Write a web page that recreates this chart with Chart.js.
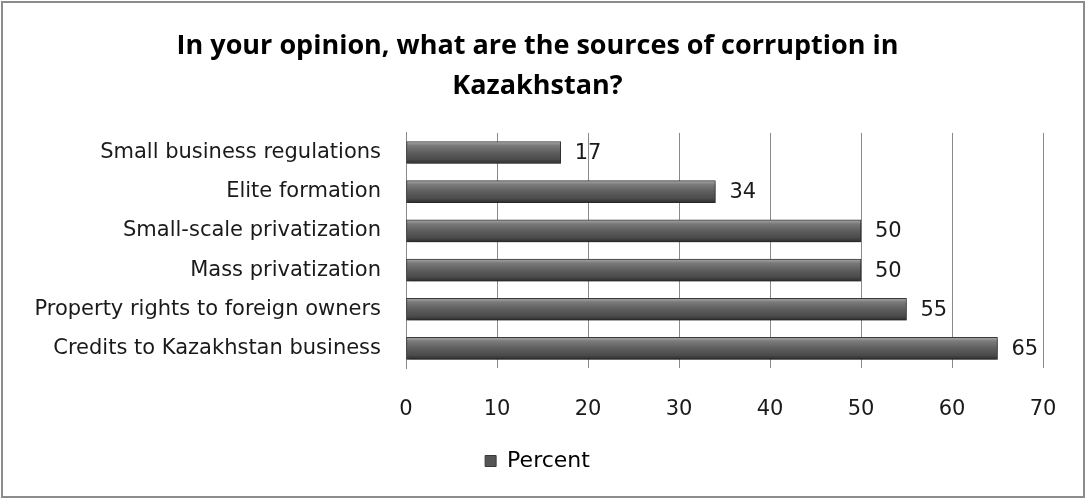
<!DOCTYPE html>
<html>
<head>
<meta charset="utf-8">
<script src="https://cdn.jsdelivr.net/npm/chart.js@4/dist/chart.umd.min.js"></script>
<style>
  html, body { margin: 0; padding: 0; background: #fff; }
  #wrap { position: relative; width: 1086px; height: 499px; }
  #chart { position: absolute; left: 0; top: 0; }
  #frame {
    position: absolute; left: 1px; top: 1px; width: 1084px; height: 497px;
    box-sizing: border-box; border: 2px solid #8c8c8c; pointer-events: none;
  }
</style>
</head>
<body>
<div id="wrap">
  <canvas id="chart" width="1086" height="499"></canvas>
  <div id="frame"></div>
</div>
<script>
const categories = [
  'Small business regulations',
  'Elite formation',
  'Small-scale privatization',
  'Mass privatization',
  'Property rights to foreign owners',
  'Credits to Kazakhstan business'
];
const percentValues = [17, 34, 50, 50, 55, 65];
const xTicks = [0, 10, 20, 30, 40, 50, 60, 70];

const FONT = "'DejaVu Sans', sans-serif";
const TITLE_FONT = "'Open Sans', 'DejaVu Sans', sans-serif";
const BAR_H = 22;

// vertical bevel-like gradient for each bar, centred on its category row
function barFill(context) {
  const chart = context.chart;
  const yScale = chart.scales.y;
  if (!yScale || context.dataIndex == null) return '#555';
  const cy = yScale.getPixelForValue(context.dataIndex);
  const g = chart.ctx.createLinearGradient(0, cy - BAR_H / 2, 0, cy + BAR_H / 2);
  g.addColorStop(0, '#a8a8a8');
  g.addColorStop(0.18, '#7a7a7a');
  g.addColorStop(0.5, '#5e5e5e');
  g.addColorStop(0.82, '#4a4a4a');
  g.addColorStop(1, '#2c2c2c');
  return g;
}

const barShadow = {
  id: 'barShadow',
  beforeDatasetDraw(chart) {
    const ctx = chart.ctx;
    ctx.save();
    ctx.shadowColor = 'rgba(0,0,0,0.35)';
    ctx.shadowOffsetX = 1;
    ctx.shadowOffsetY = 3;
    ctx.shadowBlur = 4;
  },
  afterDatasetDraw(chart) {
    chart.ctx.restore();
  }
};

const valueLabels = {
  id: 'valueLabels',
  afterDatasetsDraw(chart) {
    const ctx = chart.ctx;
    const meta = chart.getDatasetMeta(0);
    ctx.save();
    ctx.font = '21px ' + FONT;
    ctx.fillStyle = '#1a1a1a';
    ctx.textAlign = 'left';
    ctx.textBaseline = 'middle';
    meta.data.forEach((bar, i) => {
      ctx.fillText(String(percentValues[i]), bar.x + 14, bar.y + 1);
    });
    ctx.restore();
  }
};

new Chart(document.getElementById('chart'), {
  type: 'bar',
  data: {
    labels: categories,
    datasets: [{
      label: 'Percent',
      data: percentValues,
      backgroundColor: barFill,
      borderColor: '#3a3a3a',
      borderWidth: 1,
      borderSkipped: false,
      barThickness: BAR_H
    }]
  },
  options: {
    indexAxis: 'y',
    responsive: false,
    animation: false,
    layout: { padding: { left: 32, right: 43, top: 0, bottom: 17 } },
    scales: {
      x: {
        min: 0,
        max: 70,
        afterBuildTicks(scale) {
          scale.ticks = xTicks.map(v => ({ value: v }));
        },
        afterFit(scale) { scale.height = 73; },
        border: { display: false },
        grid: { color: '#8a8a8a', lineWidth: 1, drawTicks: false },
        ticks: {
          padding: 29,
          color: '#1a1a1a',
          font: { family: FONT, size: 21 }
        }
      },
      y: {
        afterFit(scale) { scale.width = 374; },
        border: { display: true, color: '#8a8a8a', width: 1 },
        grid: { display: false, drawTicks: false },
        ticks: {
          padding: 25,
          color: '#1a1a1a',
          font: { family: FONT, size: 21 }
        }
      }
    },
    plugins: {
      title: {
        display: true,
        text: ['In your opinion, what are the sources of corruption in', 'Kazakhstan?'],
        color: '#000',
        font: { family: TITLE_FONT, size: 27, weight: 'bold', lineHeight: 1.48 },
        padding: { top: 26, bottom: 27 }
      },
      legend: {
        position: 'bottom',
        labels: {
          boxWidth: 11,
          boxHeight: 11,
          color: '#1a1a1a',
          font: { family: FONT, size: 22 },
          padding: 9,
          generateLabels() {
            return [{
              text: 'Percent',
              fillStyle: '#555',
              strokeStyle: '#3a3a3a',
              lineWidth: 1,
              datasetIndex: 0
            }];
          }
        }
      },
      tooltip: { enabled: false }
    }
  },
  plugins: [barShadow, valueLabels]
});
</script>
</body>
</html>
